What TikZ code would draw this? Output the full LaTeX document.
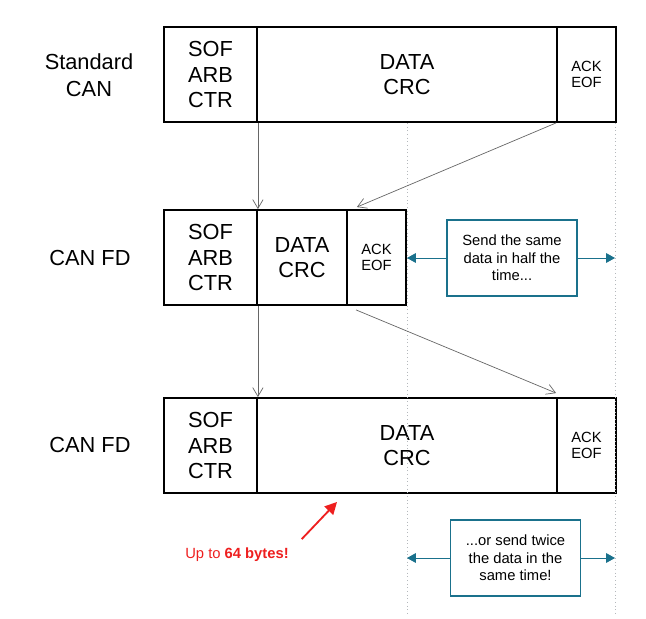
\documentclass[tikz,border=0pt]{standalone}
\usepackage{fontspec}
\setmainfont{Liberation Sans}
\usetikzlibrary{arrows.meta}
\definecolor{canteal}{HTML}{1A718C}
\definecolor{hot}{HTML}{EE1F1F}
\definecolor{guide}{HTML}{B4B8BC}

\begin{document}
\begin{tikzpicture}[x=0.025cm, y=-0.025cm,
      cell/.style={draw, line width=1.3pt, align=center, inner sep=0pt,
                   minimum height=2.375cm, font=\fontsize{15.5}{17.8}\selectfont},
      small/.style={cell, font=\fontsize{10.5}{11}\selectfont},
      note/.style={draw=canteal, line width=1.3pt, align=center, inner sep=0pt,
                   minimum width=3.25cm, minimum height=1.9cm,
                   font=\fontsize{10.5}{12.4}\selectfont},
      lbl/.style={align=center, font=\fontsize{15.5}{19}\selectfont},
      ar/.style={-{Straight Barb[length=2.2mm, width=2.6mm]}, draw=black!60, line width=0.5pt},
      tar/.style={-{Triangle[length=2.2mm, width=2.4mm]}, canteal, line width=0.6pt},
      guideline/.style={guide, dotted, line width=0.6pt}
    ]
    \useasboundingbox (0,0) rectangle (646,619);

    % standard frame
    \node[lbl]                                (std)  at (89,75)     {Standard\\CAN};
    \node[cell, minimum width=2.325cm]        (sof1) at (210.5,74.5) {SOF\\ARB\\CTR};
    \node[cell, minimum width=7.5cm]          (dat1) at (407,74.5)   {DATA\\CRC};
    \node[small, minimum width=1.475cm]       (ack1) at (586.5,74.5) {ACK\\EOF};

    % fd, same data
    \node[lbl]                                (fd1)  at (90,258)     {CAN FD};
    \node[cell, minimum width=2.325cm]        (sof2) at (210.5,257.5) {SOF\\ARB\\CTR};
    \node[cell, minimum width=2.25cm]         (dat2) at (302,257.5)   {DATA\\CRC};
    \node[small, minimum width=1.475cm]       (ack2) at (376.5,257.5) {ACK\\EOF};

    % fd, more data
    \node[lbl]                                (fd2)  at (90,445)     {CAN FD};
    \node[cell, minimum width=2.325cm]        (sof3) at (210.5,445.5) {SOF\\ARB\\CTR};
    \node[cell, minimum width=7.5cm]          (dat3) at (407,445.5)   {DATA\\CRC};
    \node[small, minimum width=1.475cm]       (ack3) at (586.5,445.5) {ACK\\EOF};

    % time guides
    \coordinate (g1top) at (407,123);
    \coordinate (g1bot) at (407,613);
    \coordinate (g2top) at (615,123);
    \coordinate (g2bot) at (615,613);
    \draw[guideline] (g1top) -- (g1bot);
    \draw[guideline] (g2top) -- (g2bot);

    \draw[ar] (sof1.south east) -- (sof2.north east);
    \draw[ar] (ack1.south west) -- ([xshift=0.27cm, yshift=0.05cm]ack2.north west);
    \draw[ar] (sof2.south east) -- (sof3.north east);
    \draw[ar] ([xshift=0.25cm, yshift=-0.1cm]ack2.south west) -- ([yshift=0.1cm]ack3.north west);

    \node[note] (half)  at (512,258)   {Send the same\\data in half the\\time...};
    \node[note] (twice) at (515.5,558) {...or send twice\\the data in the\\same time!};
    \draw[tar] (half.west)  -- (half.west -| g1top);
    \draw[tar] (half.east)  -- (half.east -| g2top);
    \draw[tar] (twice.west) -- (twice.west -| g1top);
    \draw[tar] (twice.east) -- (twice.east -| g2top);

    \node[hot, font=\fontsize{10.5}{12}\selectfont] (bytes) at (237,555) {Up to \textbf{64 bytes!}};
    \coordinate (tip) at (337,502);
    \draw[hot, line width=1.3pt, -{Triangle[length=3mm, width=3mm]}] ([xshift=0.2cm, yshift=0.1cm]bytes.north east) -- (tip);
  \end{tikzpicture}
\end{document}
